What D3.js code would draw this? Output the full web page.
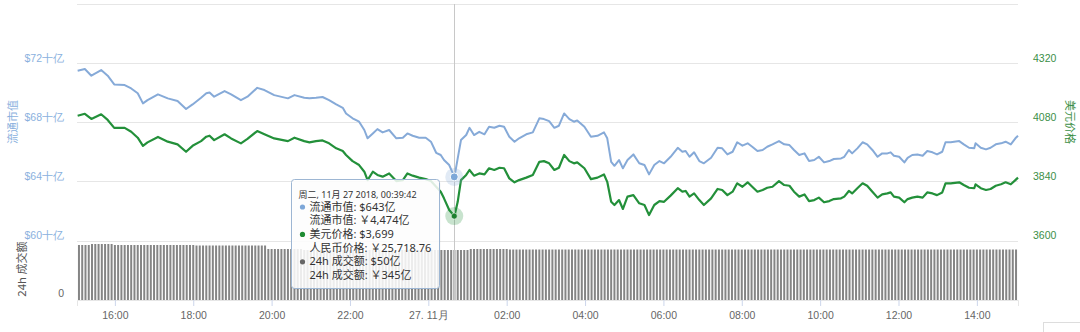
<!DOCTYPE html>
<html><head><meta charset="utf-8">
<script src="https://cdn.jsdelivr.net/npm/d3@7"></script>
<style>
body{margin:0;background:#fff}
svg{display:block;font-family:"Noto Sans","Noto Sans CJK SC",sans-serif}
</style>
</head><body>
<svg id="c" width="1080" height="332"></svg>
<script>
// ---- data ----
const times = [
"26 15:03","26 15:14","26 15:24","26 15:39","26 15:49","26 15:59","26 16:15","26 16:25","26 16:35","26 16:43",
"26 16:50","26 17:06","26 17:21","26 17:36","26 17:49","26 17:59","26 18:12","26 18:20","26 18:25","26 18:32",
"26 18:48","26 18:58","26 19:13","26 19:23","26 19:38","26 19:49","26 20:04","26 20:25","26 20:35","26 20:50",
"26 20:58","26 21:08","26 21:18","26 21:28","26 21:39","26 21:49","26 21:54","26 22:04","26 22:14","26 22:22",
"26 22:27","26 22:35","26 22:42","26 22:50","26 23:00","26 23:11","26 23:21","26 23:28","26 23:36","26 23:46",
"26 23:56","27 00:04","27 00:12","27 00:19","27 00:24","27 00:32","27 00:40","27 00:45","27 00:50","27 00:58",
"27 01:03","27 01:10","27 01:18","27 01:26","27 01:33","27 01:41","27 01:49","27 01:56","27 02:04","27 02:12",
"27 02:19","27 02:30","27 02:40","27 02:50","27 02:57","27 03:05","27 03:13","27 03:20","27 03:28","27 03:36",
"27 03:43","27 03:48","27 03:59","27 04:09","27 04:19","27 04:29","27 04:34","27 04:40","27 04:45","27 04:52",
"27 04:58","27 05:05","27 05:14","27 05:23","27 05:31","27 05:38","27 05:46","27 05:54","27 06:01","27 06:11",
"27 06:22","27 06:29","27 06:34","27 06:40","27 06:47","27 06:55","27 07:02","27 07:13","27 07:23","27 07:30",
"27 07:38","27 07:46","27 07:53","27 08:01","27 08:09","27 08:16","27 08:24","27 08:32","27 08:39","27 08:47",
"27 08:57","27 09:05","27 09:13","27 09:20","27 09:28","27 09:36","27 09:43","27 09:51","27 09:58","27 10:06",
"27 10:14","27 10:21","27 10:32","27 10:37","27 10:44","27 10:49","27 10:57","27 11:05","27 11:12","27 11:20",
"27 11:28","27 11:35","27 11:43","27 11:48","27 11:53","27 12:01","27 12:09","27 12:14","27 12:21","27 12:29",
"27 12:37","27 12:44","27 12:52","27 12:59","27 13:07","27 13:12","27 13:20","27 13:33","27 13:40","27 13:48",
"27 13:56","27 13:58","27 14:06","27 14:14","27 14:21","27 14:29","27 14:37","27 14:44","27 14:52","27 14:59",
"27 15:03"];

// USD price
const priceUSD = [
4106,4114,4093,4112,4089,4057,4057,4041,4017,3984,
3998,4020,4001,3990,3960,3984,4003,4021,4025,4007,
4031,4014,3994,4012,4044,4031,4014,4003,4017,4003,
3998,4003,4006,3994,3974,3963,3947,3922,3906,3879,
3845,3879,3866,3859,3872,3841,3845,3872,3863,3855,
3849,3841,3818,3798,3771,3724,3699,3757,3845,3866,
3886,3863,3872,3868,3893,3886,3895,3893,3852,3836,
3845,3855,3866,3919,3922,3913,3886,3895,3947,3922,
3913,3917,3893,3849,3855,3868,3838,3757,3744,3764,
3728,3778,3784,3751,3744,3703,3744,3760,3757,3782,
3812,3798,3801,3778,3791,3764,3744,3771,3809,3805,
3784,3798,3832,3818,3836,3818,3798,3805,3814,3818,
3841,3825,3822,3798,3778,3787,3760,3764,3774,3755,
3760,3768,3771,3778,3801,3791,3812,3832,3822,3798,
3774,3787,3791,3795,3778,3774,3755,3768,3774,3778,
3774,3795,3791,3784,3795,3832,3832,3836,3825,3814,
3812,3828,3812,3805,3809,3822,3828,3836,3828,3845,
3855];

// circulating market cap, in 十亿 USD
const marketCap = [
71.47,71.59,71.14,71.52,71.14,70.55,70.51,70.28,69.95,69.27,
69.49,69.88,69.61,69.43,68.89,69.20,69.65,69.95,70.01,69.72,
70.10,69.88,69.49,69.72,70.32,70.17,69.83,69.61,69.83,69.65,
69.61,69.65,69.70,69.49,69.20,68.97,68.59,68.26,68.03,67.47,
66.91,67.24,67.53,67.31,67.47,66.91,66.95,67.24,67.08,66.95,
66.95,66.68,65.93,65.78,65.44,65.10,64.30,65.55,66.79,67.13,
67.62,67.13,67.35,67.18,67.69,67.62,67.76,67.69,67.01,66.68,
66.91,67.18,67.31,68.26,68.21,68.07,67.62,67.76,68.59,68.21,
68.03,68.12,67.69,67.01,67.08,67.31,66.91,65.32,65.05,65.44,
64.88,65.44,65.82,65.22,65.10,64.47,65.10,65.37,65.22,65.66,
66.27,66.00,66.05,65.66,65.96,65.37,65.22,65.59,66.27,66.23,
65.82,66.00,66.64,66.41,66.57,66.34,66.05,66.12,66.34,66.50,
66.72,66.50,66.45,66.12,65.78,65.89,65.37,65.44,65.66,65.28,
65.37,65.51,65.55,65.66,66.12,65.89,66.23,66.64,66.50,66.12,
65.66,65.89,65.89,65.96,65.73,65.66,65.28,65.59,65.78,65.82,
65.73,66.05,65.96,65.82,66.00,66.64,66.64,66.72,66.50,66.27,
66.23,66.57,66.27,66.16,66.27,66.50,66.57,66.68,66.50,66.91,
67.08];

// 24h volume, 亿 USD, one bar every 5 minutes from 26 15:05 to 27 15:00
const volume = [
55,55,55,55,56,56,56,56,56,56,56,55,
55,55,55,55,55,55,55,55,55,55,55,55,
55,55,55,55,55,55,55,55,55,55,55,55,
54.5,54.5,54.5,54.5,54.5,54.5,54.5,54.5,54.5,54.5,54.5,54.5,
54.5,54.5,54.5,54.5,54.5,54.5,54.5,54.5,54.5,54.5,51,51,
51,51,51,51,51,51,51,51,51,50,50,50,
50,50,50,50,50,50,50,50,50,50,50,50,
50,50,50,50,50,50,50,50,50,50,50,50,
50,50,50,50,50,50,50,50,50,50,50,50,
50,50,50,50,50,50,50,50,50,50,50,50,
51,51,51,51,51,51,51,51,51,51,51,51,
50.5,50.5,50.5,50.5,50.5,50.5,50.5,50.5,50.5,50.5,50.5,50.5,
50.5,50.5,50.5,50.5,50.5,50.5,50.5,50.5,50.5,50.5,50.5,50.5,
50.5,50.5,50.5,50.5,50.5,50.5,50.5,50.5,50.5,50.5,50.5,50.5,
50.5,50.5,50.5,50.5,50.5,50.5,50.5,50.5,50.5,50.5,50.5,50.5,
50.5,50.5,50.5,50.5,50.5,50.5,50.5,50.5,50.5,50.5,50.5,50.5,
50.5,50.5,50.5,50.5,50.5,50.5,50.5,50.5,50.5,50.5,50.5,50.5,
50.5,50.5,50.5,50.5,50.5,50.5,50.5,50.5,50.5,50.5,50.5,50.5,
50.5,50.5,50.5,50.5,50.5,50.5,50.5,50.5,50.5,50.5,50.5,50.5,
50.5,50.5,50.5,50.5,50.5,50.5,50.5,50.5,50.5,50.5,50.5,50.5,
50.5,50.5,50.5,50.5,50.5,50.5,50.5,50.5,50.5,50.5,50.5,50.5,
50.5,50.5,50.5,50.5,50.5,50.5,50.5,50.5,50.5,50.5,50.5,50.5,
50.5,50.5,50.5,50.5,50.5,50.5,50.5,50.5,50.5,50.5,50.5,50.5,
50.5,50.5,50.5,50.5,50.5,50.5,50.5,50.5,50.5,50.5,50.5,50.5];

const capTicks = [60,64,68,72,76];
const capTickLabels = ["$60十亿","$64十亿","$68十亿","$72十亿",""];
const priceTicks = [3600,3840,4080,4320];
const volumeTicks = [0];
const hoverTime = "27 00:39:42";
const tooltipLines = [
  {dot:"#7da7d8", text:"流通市值: $643亿"},
  {dot:null, text:"流通市值: ￥4,474亿"},
  {dot:"#1f8c33", text:"美元价格: $3,699"},
  {dot:null, text:"人民币价格: ￥25,718.76"},
  {dot:"#666", text:"24h 成交额: $50亿"},
  {dot:null, text:"24h 成交额: ￥345亿"}
];
const tooltipHeader = "周二, 11月 27 2018, 00:39:42";

// ---- drawing ----
const parse = d3.timeParse("%Y-%m-%d %H:%M");
const parseS = d3.timeParse("%Y-%m-%d %H:%M:%S");
const T = times.map(s => parse("2018-11-" + s));
const svg = d3.select("#c");
const blue = "#86aad8", green = "#23903a";

const x = d3.scaleTime()
  .domain([parse("2018-11-26 15:02"), parse("2018-11-27 15:03")])
  .range([77, 1018]);
const yCap = d3.scaleLinear().domain([60, 72]).range([240.5, 63]);
const yPrice = d3.scaleLinear().domain([3600, 4320]).range([240.5, 63]);
const yVol = d3.scaleLinear().domain([0, 60]).range([300, 240]);

// grid
svg.append("g").selectAll("line").data(capTicks).join("line")
  .attr("x1", 77).attr("x2", 1018)
  .attr("y1", d => Math.round(yCap(d)) + 0.5).attr("y2", d => Math.round(yCap(d)) + 0.5)
  .attr("stroke", "#e6e6e6");

// volume bars
const vStart = parse("2018-11-26 15:05");
const vTimes = volume.map((v, i) => d3.timeMinute.offset(vStart, 5 * i));
svg.append("g").selectAll("rect").data(volume).join("rect")
  .attr("x", (d, i) => x(vTimes[i]) - 1)
  .attr("width", 2)
  .attr("y", d => yVol(d))
  .attr("height", d => yVol(0) - yVol(d))
  .attr("fill", "#858585");

// x axis
const xTicks = d3.timeHour.every(2).range(parse("2018-11-26 16:00"), parse("2018-11-27 15:00"));
const xAxis = svg.append("g").attr("transform", "translate(0,300)")
  .call(d3.axisBottom(x).tickValues(xTicks).tickSize(6).tickPadding(6)
    .tickFormat(d => d.getHours() === 0 ? "27. 11月" : d3.timeFormat("%H:%M")(d)));
xAxis.select(".domain").attr("stroke", "#e6e6e6");
xAxis.selectAll(".tick line").attr("stroke", "#ccd6eb");
xAxis.selectAll("text").attr("fill", "#666").attr("font-size", 10.5);

// left axis labels
const lAxis = svg.append("g").attr("transform", "translate(64,0)")
  .call(d3.axisLeft(yCap).tickValues(capTicks.slice(0, 4)).tickSize(0).tickPadding(0)
    .tickFormat((d, i) => capTickLabels[i]));
lAxis.select(".domain").remove();
lAxis.selectAll("text").attr("fill", "#8ab1de").attr("font-size", 10.5).attr("dy", "-0.15em");

// right axis labels
const rAxis = svg.append("g").attr("transform", "translate(1033,0)")
  .call(d3.axisRight(yPrice).tickValues(priceTicks).tickSize(0).tickPadding(0).tickFormat(d3.format("d")));
rAxis.select(".domain").remove();
rAxis.selectAll("text").attr("fill", "#3b8f47").attr("font-size", 10.5).attr("dy", "-0.15em");

// volume axis
const vAxis = svg.append("g").attr("transform", "translate(64,0)")
  .call(d3.axisLeft(yVol).tickValues(volumeTicks).tickSize(0).tickPadding(0));
vAxis.select(".domain").remove();
vAxis.selectAll("text").attr("fill", "#666").attr("font-size", 10.5).attr("dy", "-0.3em");

// axis titles
svg.append("text").attr("transform", "translate(17,122) rotate(-90)").attr("text-anchor", "middle")
  .attr("fill", "#8ab1de").attr("font-size", 11).text("流通市值");
svg.append("text").attr("transform", "translate(26,269) rotate(-90)").attr("text-anchor", "middle")
  .attr("fill", "#555").attr("font-size", 11).text("24h 成交额");
svg.append("text").attr("transform", "translate(1066,122) rotate(90)").attr("text-anchor", "middle")
  .attr("fill", "#3b8f47").attr("font-size", 11).text("美元价格");

// lines
svg.append("path").datum(marketCap)
  .attr("d", d3.line().x((d, i) => x(T[i])).y(d => yCap(d)))
  .attr("fill", "none").attr("stroke", blue).attr("stroke-width", 2).attr("stroke-linejoin", "round");
svg.append("path").datum(priceUSD)
  .attr("d", d3.line().x((d, i) => x(T[i])).y(d => yPrice(d)))
  .attr("fill", "none").attr("stroke", green).attr("stroke-width", 2.2).attr("stroke-linejoin", "round");

// hover state
const ht = parseS("2018-11-" + hoverTime);
const hx = x(ht);
const hi = times.indexOf("27 00:40");
svg.append("line").attr("x1", Math.round(hx) + 0.5).attr("x2", Math.round(hx) + 0.5)
  .attr("y1", 4).attr("y2", 300).attr("stroke", "#c8c8c8");
svg.append("circle").attr("cx", hx).attr("cy", yCap(marketCap[hi])).attr("r", 9)
  .attr("fill", blue).attr("opacity", 0.25);
svg.append("circle").attr("cx", hx).attr("cy", yCap(marketCap[hi])).attr("r", 4)
  .attr("fill", "#7da7d8").attr("stroke", "#fff").attr("stroke-width", 1);
svg.append("circle").attr("cx", hx).attr("cy", yPrice(priceUSD[hi])).attr("r", 9)
  .attr("fill", green).attr("opacity", 0.25);
svg.append("circle").attr("cx", hx).attr("cy", yPrice(priceUSD[hi])).attr("r", 3)
  .attr("fill", "#1c7f2e").attr("stroke", "#fff").attr("stroke-width", 0.5);

// tooltip
const tt = svg.append("g").attr("transform", "translate(291.5,179.5)");
tt.append("rect").attr("x", 1).attr("y", 1.5).attr("width", 148).attr("height", 109).attr("rx", 3)
  .attr("fill", "#000").attr("opacity", 0.05);
tt.append("rect").attr("width", 148).attr("height", 109).attr("rx", 3)
  .attr("fill", "rgba(255,255,255,0.85)").attr("stroke", "#9db6d3");
tt.append("text").attr("x", 7).attr("y", 18).attr("font-size", 9).attr("fill", "#333").text(tooltipHeader);
tooltipLines.forEach((l, i) => {
  const yy = 31 + i * 13.7;
  if (l.dot) tt.append("circle").attr("cx", 11).attr("cy", yy - 3.5).attr("r", 2.6).attr("fill", l.dot);
  tt.append("text").attr("x", 18).attr("y", yy).attr("font-size", 11).attr("fill", "#333").text(l.text);
});

// partial box at bottom right
svg.append("rect").attr("x", 1043.5).attr("y", 322.5).attr("width", 50).attr("height", 20)
  .attr("fill", "#fff").attr("stroke", "#ddd");
</script>
</body></html>
